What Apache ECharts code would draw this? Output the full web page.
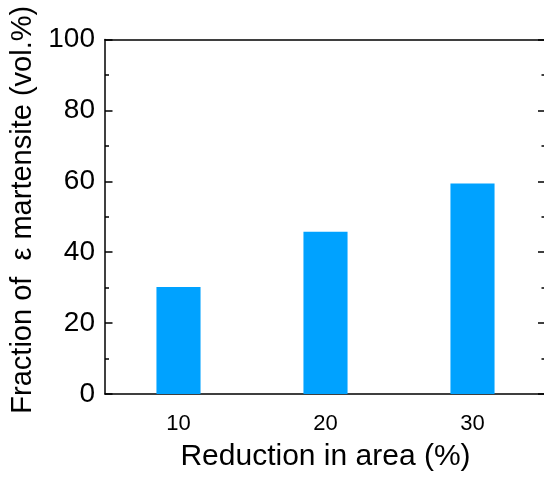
<!DOCTYPE html>
<html><head><meta charset="utf-8">
<script src="https://cdn.jsdelivr.net/npm/echarts@6/dist/echarts.min.js"></script>
<style>html,body{margin:0;padding:0;background:#fff}#c{width:544px;height:479px}</style>
</head><body><div id="c"></div>
<script>
var categories = ['10', '20', '30'];
var fractions = [30.2, 45.8, 59.4];
var yTicks = [0, 20, 40, 60, 80, 100];

var FONT = '"Liberation Sans", Arial, sans-serif';
var chart = echarts.init(document.getElementById('c'), null, {renderer: 'canvas'});
var lineStyle = {color: '#000', width: 1.5};
chart.setOption({
  animation: false,
  backgroundColor: '#fff',
  grid: {left: 105, top: 39.5, right: -2, bottom: 85, containLabel: false, outerBoundsMode: 'none'},
  xAxis: [{
    type: 'category', data: categories, position: 'bottom',
    axisLine: {lineStyle: lineStyle},
    axisTick: {inside: true, alignWithLabel: true, length: 7, lineStyle: lineStyle},
    axisLabel: {fontFamily: FONT, fontSize: 22, color: '#000', margin: 19},
    name: 'Reduction in area (%)', nameLocation: 'middle', nameGap: 48,
    nameTextStyle: {fontFamily: FONT, fontSize: 30, color: '#000'}
  }, {
    type: 'category', data: categories, position: 'bottom', gridIndex: 0,
    axisLine: {show: false},
    axisTick: {inside: true, alignWithLabel: false, length: 3.5, lineStyle: lineStyle},
    axisLabel: {show: false}
  }, {
    type: 'category', data: categories, position: 'top',
    axisLine: {lineStyle: lineStyle},
    axisTick: {inside: true, alignWithLabel: true, length: 7, lineStyle: lineStyle},
    axisLabel: {show: false}
  }],
  yAxis: [{
    type: 'value', min: yTicks[0], max: yTicks[yTicks.length - 1], interval: 20, position: 'left',
    axisLine: {show: true, lineStyle: lineStyle},
    axisTick: {show: true, inside: true, length: 7.5, lineStyle: lineStyle},
    minorTick: {show: true, splitNumber: 2, length: 4, lineStyle: lineStyle},
    splitLine: {show: false},
    axisLabel: {fontFamily: FONT, fontSize: 28, color: '#000', margin: 10},
    name: 'Fraction of  \u03b5 martensite (vol.%)', nameLocation: 'middle', nameGap: 60,
    nameTextStyle: {fontFamily: FONT, fontSize: 29, color: '#000', padding: [0, 0, 0, 14]}
  }, {
    type: 'value', min: yTicks[0], max: yTicks[yTicks.length - 1], interval: 20, position: 'right',
    axisLine: {show: true, lineStyle: lineStyle},
    axisTick: {show: true, inside: true, length: 8, lineStyle: lineStyle},
    minorTick: {show: true, splitNumber: 2, length: 4.5, lineStyle: lineStyle},
    splitLine: {show: false},
    axisLabel: {show: false}
  }],
  series: [{
    type: 'bar', data: fractions, xAxisIndex: 0, yAxisIndex: 0,
    barWidth: '30%', itemStyle: {color: '#00A2FF'}
  }]
});
</script></body></html>
